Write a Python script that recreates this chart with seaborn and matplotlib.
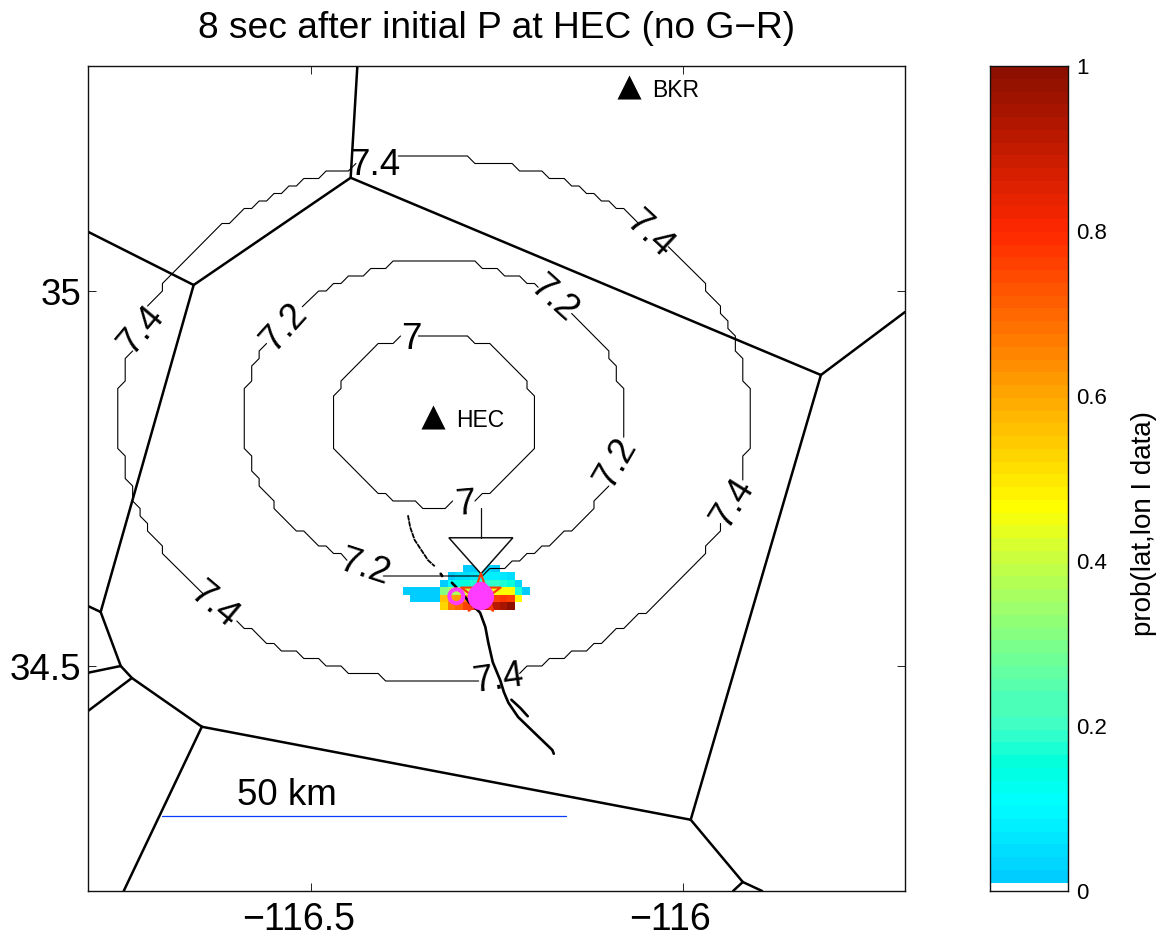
import matplotlib
matplotlib.use("Agg")
import matplotlib.pyplot as plt
import numpy as np
import seaborn as sns
from matplotlib.colors import LinearSegmentedColormap
from matplotlib.transforms import ScaledTranslation

# station locations
station_names = ["BKR", "HEC"]
station_lon = [-116.073, -116.336]
station_lat = [35.272, 34.832]
station_label_lon = [-116.042, -116.305]
station_label_lat = [35.268, 34.828]

# fault network, one polyline per entry
fault_lons = [
    [-116.438, -116.447],
    [-116.447, -116.658],
    [-116.80, -116.658],
    [-116.658, -116.783],
    [-116.447, -115.815],
    [-115.815, -115.702],
    [-115.815, -115.990],
    [-115.990, -116.647],
    [-116.647, -116.741],
    [-116.741, -116.756],
    [-116.756, -116.783],
    [-116.783, -116.80],
    [-116.756, -116.80],
    [-116.741, -116.80],
    [-116.647, -116.752],
    [-115.990, -115.920],
    [-115.920, -115.933],
    [-115.920, -115.894],
]
fault_lats = [
    [35.30, 35.151],
    [35.151, 35.008],
    [35.079, 35.008],
    [35.008, 34.572],
    [35.151, 34.888],
    [34.888, 34.972],
    [34.888, 34.295],
    [34.295, 34.419],
    [34.419, 34.484],
    [34.484, 34.50],
    [34.50, 34.572],
    [34.572, 34.58],
    [34.50, 34.491],
    [34.484, 34.44],
    [34.419, 34.20],
    [34.295, 34.212],
    [34.212, 34.20],
    [34.212, 34.20],
]

# surface rupture traces
trace_lons = [
    [-116.293, -116.287, -116.277, -116.273, -116.266, -116.262, -116.256,
     -116.246, -116.241, -116.235, -116.222, -116.197, -116.176, -116.174],
    [-116.231, -116.219, -116.209],
    [-116.311, -116.305],
    [-116.326, -116.324],
]
trace_lats = [
    [34.592, 34.584, 34.575, 34.571, 34.552, 34.531, 34.505,
     34.481, 34.465, 34.451, 34.432, 34.408, 34.388, 34.383],
    [34.455, 34.444, 34.433],
    [34.611, 34.605],
    [34.623, 34.620],
]
upper_trace_lon = [-116.370, -116.367, -116.361, -116.351, -116.343, -116.334]
upper_trace_lat = [34.701, 34.685, 34.668, 34.653, 34.641, 34.633]

# contour M 7.4, broken where the labels sit
c74_lons = [
    [-116.383, -116.29, -116.28, -116.23, -116.22, -116.19, -116.18, -116.16, -116.15,
     -116.14, -116.13, -116.12, -116.11, -116.10, -116.09, -116.08, -116.06],
    [-116.02, -115.97, -115.97, -115.95, -115.95, -115.94, -115.94, -115.93, -115.93,
     -115.92, -115.92, -115.91, -115.91, -115.92, -115.92],
    [-115.95, -115.95, -115.97, -115.97, -116.05, -116.06, -116.08, -116.09, -116.11,
     -116.12, -116.13, -116.15, -116.16, -116.18, -116.19, -116.21, -116.22],
    [-116.275, -116.40, -116.41, -116.45, -116.46, -116.48, -116.49, -116.51, -116.52,
     -116.54, -116.55, -116.56, -116.58, -116.59, -116.60],
    [-116.645, -116.70, -116.70, -116.72, -116.72, -116.73, -116.73, -116.74, -116.74,
     -116.75, -116.75, -116.76, -116.76, -116.75, -116.75, -116.74],
    [-116.72, -116.70, -116.70, -116.62, -116.61, -116.59, -116.58, -116.57, -116.56,
     -116.55, -116.54, -116.53, -116.52, -116.51, -116.49, -116.48, -116.45, -116.44],
]
c74_lats = [
    [35.18, 35.18, 35.17, 35.17, 35.16, 35.16, 35.15, 35.15, 35.14,
     35.14, 35.13, 35.13, 35.12, 35.12, 35.11, 35.11, 35.09],
    [35.059, 35.01, 35.00, 34.98, 34.97, 34.96, 34.95, 34.94, 34.92,
     34.91, 34.88, 34.87, 34.79, 34.78, 34.748],
    [34.69, 34.68, 34.66, 34.65, 34.57, 34.57, 34.55, 34.55, 34.53,
     34.53, 34.52, 34.52, 34.51, 34.51, 34.50, 34.50, 34.49],
    [34.48, 34.48, 34.49, 34.49, 34.50, 34.50, 34.51, 34.51, 34.52,
     34.52, 34.53, 34.53, 34.55, 34.55, 34.56],
    [34.596, 34.65, 34.66, 34.68, 34.69, 34.70, 34.71, 34.72, 34.74,
     34.75, 34.78, 34.79, 34.87, 34.88, 34.91, 34.92],
    [34.98, 35.00, 35.01, 35.09, 35.09, 35.11, 35.11, 35.12, 35.12,
     35.13, 35.13, 35.14, 35.14, 35.15, 35.15, 35.16, 35.16, 35.17],
]

# contour M 7.2
c72_lons = [
    [-116.512, -116.49, -116.48, -116.47, -116.46, -116.45, -116.43, -116.42, -116.40,
     -116.39, -116.28, -116.27, -116.25, -116.24, -116.22, -116.21, -116.20, -116.195],
    [-116.15, -116.10, -116.10, -116.09, -116.09, -116.08, -116.08],
    [-116.10, -116.12, -116.12, -116.15, -116.16, -116.18, -116.19, -116.20, -116.21,
     -116.22, -116.23, -116.24, -116.26, -116.27, -116.403],
    [-116.452, -116.46, -116.47, -116.48, -116.49, -116.51, -116.52, -116.55, -116.55,
     -116.57, -116.57, -116.58, -116.58, -116.59, -116.59, -116.58, -116.58, -116.57,
     -116.57, -116.56],
]
c72_lats = [
    [34.979, 35.00, 35.00, 35.01, 35.01, 35.02, 35.02, 35.03, 35.03,
     35.04, 35.04, 35.03, 35.03, 35.02, 35.02, 35.01, 35.01, 35.005],
    [34.97, 34.92, 34.91, 34.90, 34.88, 34.87, 34.805],
    [34.74, 34.72, 34.71, 34.68, 34.68, 34.66, 34.66, 34.65, 34.65,
     34.64, 34.64, 34.63, 34.63, 34.62, 34.62],
    [34.641, 34.65, 34.65, 34.66, 34.66, 34.68, 34.68, 34.71, 34.72,
     34.74, 34.75, 34.76, 34.78, 34.79, 34.87, 34.88, 34.90, 34.91,
     34.92, 34.93],
]

# contour M 7
c70_lons = [
    [-116.356, -116.29, -116.28, -116.26, -116.21, -116.21, -116.20, -116.20, -116.26,
     -116.27, -116.28],
    [-116.31, -116.32, -116.35, -116.36, -116.39, -116.40, -116.41, -116.47, -116.47,
     -116.46, -116.46, -116.41, -116.39, -116.38],
]
c70_lats = [
    [34.94, 34.94, 34.93, 34.93, 34.88, 34.87, 34.86, 34.79, 34.73, 34.73, 34.72],
    [34.72, 34.71, 34.71, 34.72, 34.72, 34.73, 34.73, 34.79, 34.86, 34.87, 34.88,
     34.93, 34.93, 34.94],
]

# contour labels
label_text = ["7.4", "7.4", "7.4", "7.4", "7.4", "7.4", "7.2", "7.2", "7.2", "7.2", "7", "7"]
label_lon = [-116.414, -116.045, -116.729, -115.934, -116.631, -116.249,
             -116.536, -116.174, -116.091, -116.429, -116.366, -116.293]
label_lat = [35.168, 35.075, 34.947, 34.717, 34.581, 34.482,
             34.951, 34.989, 34.771, 34.631, 34.935, 34.715]
label_rot = [0, -43, 50, 58, -40, 8, 48, -42, 60, -18, 0, 5]

# probability grid, 0.01 degree cells, nan = not drawn
prob_lon_edges = np.arange(18) * 0.01 - 116.3766
prob_lat_edges = 34.635 - np.arange(7) * 0.01
n = np.nan
prob_grid = np.array([
    [n, n, n, n, n, n, n, n, .02, .03, .03, .04, .03, n, n, n, n],
    [n, n, n, n, n, n, .03, .05, .06, .07, .08, .09, .09, .07, .05, n, n],
    [n, n, n, n, n, .03, .12, .15, .17, .18, .19, .19, .19, .18, .17, .04, n],
    [.02, .02, .02, .02, .02, .30, .33, .37, .40, .42, .44, .45, .45, .46, .46, .18, .02],
    [n, .02, .02, .02, .02, .55, .60, .62, .65, .68, .70, .72, .75, .78, .76, .46, n],
    [n, n, n, n, n, .52, .66, .70, .76, .80, .85, .90, .92, .95, .99, n, n],
])

# epicentre estimates and the P arrival marker
star_lon, star_lat = [-116.272], [34.596]
best_lon, best_lat = [-116.272, -116.272], [34.592, 34.601]
ring_lon, ring_lat = [-116.305], [34.593]
arrow_lon = [-116.315, -116.229, -116.272]
arrow_lat = [34.671, 34.671, 34.623]
stem_lon = [-116.272, -116.272]
stem_lat = [34.711, 34.671]

# scale bar
scale_lon = [-116.7005, -116.1575]
scale_lat = [34.30, 34.30]

# colour scale anchors
cmap_values = [0.0, 0.107, 0.155, 0.2, 0.4, 0.458, 0.6, 0.8, 1.0]
cmap_colors = ["#00c4ff", "#00ffff", "#00ffdc", "#3cffc8", "#cdff3c", "#ffff00",
               "#ffa500", "#ff2800", "#8c0f00"]
cbar_ticks = [0, 0.2, 0.4, 0.6, 0.8, 1]
cbar_ticklabels = ["0", "0.2", "0.4", "0.6", "0.8", "1"]

sns.set_style("ticks")
plt.rcParams["font.family"] = ["Liberation Sans", "DejaVu Sans"]
plt.rcParams["text.color"] = "black"
plt.rcParams["axes.labelcolor"] = "black"
plt.rcParams["xtick.labelcolor"] = "black"
plt.rcParams["ytick.labelcolor"] = "black"

W, H = 1166, 938
fig = plt.figure(figsize=(W / 100, H / 100), dpi=100)
ax = fig.add_axes([88 / W, 1 - 891 / H, (905 - 88) / W, (891 - 66) / H])
cax = fig.add_axes([990 / W, 1 - 891 / H, (1068 - 990) / W, (891 - 66) / H])

prob_cmap = LinearSegmentedColormap.from_list("prob", list(zip(cmap_values, cmap_colors)), N=64)

ax.pcolormesh(prob_lon_edges, prob_lat_edges, prob_grid, cmap=prob_cmap, vmin=0, vmax=1, zorder=1)

for lons, lats in zip(fault_lons, fault_lats):
    sns.lineplot(x=lons, y=lats, sort=False, estimator=None, color="black", linewidth=1.8, ax=ax, zorder=2)

for lons, lats in zip(c74_lons + c72_lons + c70_lons, c74_lats + c72_lats + c70_lats):
    sns.lineplot(x=lons, y=lats, sort=False, estimator=None, color="black", linewidth=0.8, ax=ax, zorder=2)

for lons, lats in zip(trace_lons, trace_lats):
    sns.lineplot(x=lons, y=lats, sort=False, estimator=None, color="black", linewidth=1.9, ax=ax, zorder=3)
sns.lineplot(x=upper_trace_lon, y=upper_trace_lat, sort=False, estimator=None, color="black",
             linewidth=1.3, linestyle=(0, (3, 0.4)), ax=ax, zorder=3)

sns.lineplot(x=scale_lon, y=scale_lat, sort=False, estimator=None, color="#0a3cff", linewidth=0.9, ax=ax)
ax.text(-116.533, 34.328, "50 km", fontsize=26.5, ha="center", va="center")

# P arrival marker
ax.fill(arrow_lon, arrow_lat, facecolor="white", edgecolor="#111111", linewidth=1.1, zorder=4)
sns.lineplot(x=stem_lon, y=stem_lat, sort=False, estimator=None, color="#111111", linewidth=0.9, ax=ax, zorder=4)

ax.scatter(star_lon, star_lat, marker="*", s=900, facecolors="none", edgecolors="#ff3a00", linewidths=1.5, zorder=5)
sns.scatterplot(x=best_lon, y=best_lat, s=[360, 150], size=[360, 150], sizes=(150, 360), color="#ff3cff",
                linewidth=0, legend=False, ax=ax, zorder=6)
ax.scatter(ring_lon, ring_lat, marker="o", s=100, facecolors="none", edgecolors="#ff3cff", linewidths=2.9, zorder=6)

sns.scatterplot(x=station_lon, y=station_lat, marker="^", s=300, color="black", linewidth=0, legend=False, ax=ax, zorder=5)
for name, lon, lat in zip(station_names, station_label_lon, station_label_lat):
    ax.text(lon, lat, name, fontsize=16.5, ha="left", va="center")

for text, lon, lat, rot in zip(label_text, label_lon, label_lat, label_rot):
    ax.text(lon, lat, text, fontsize=26.5, rotation=rot, ha="center", va="center",
            rotation_mode="anchor", zorder=7)

ax.set_xlim(-116.80, -115.702)
ax.set_ylim(34.20, 35.30)
ax.set_xticks([-116.5, -116])
ax.set_xticklabels(["\u2212116.5", "\u2212116"])
ax.set_yticks([34.5, 35])
ax.set_yticklabels(["34.5", "35"])
ax.tick_params(direction="in", length=6, width=0.7, top=True, right=True, color="#222222")
ax.tick_params(axis="x", labelsize=27, pad=8)
ax.tick_params(axis="y", labelsize=26.5, pad=5)
# the original tick labels sit left of their ticks
for lab in ax.get_xticklabels():
    lab.set_transform(lab.get_transform() + ScaledTranslation(-13 / 100, 0, fig.dpi_scale_trans))
for spine in ax.spines.values():
    spine.set_visible(True)
    spine.set_linewidth(1.0)
    spine.set_color("#111111")
ax.set_title("8 sec after initial P at HEC (no G\u2212R)", fontsize=26.7, pad=20)
ax.set_xlabel("")
ax.set_ylabel("")

# colourbar: 64 flat levels with the lowest sliver left white
cbar_edges = np.linspace(0.01, 1, 65)
cbar_levels = (cbar_edges[:-1] + cbar_edges[1:]) / 2
cax.pcolormesh([0, 1], cbar_edges, cbar_levels[:, None], cmap=prob_cmap, vmin=0, vmax=1)
cax.set_xlim(0, 1)
cax.set_ylim(0, 1)
cax.set_xticks([])
cax.set_yticks(cbar_ticks)
cax.set_yticklabels(cbar_ticklabels)
cax.yaxis.tick_right()
cax.tick_params(axis="y", direction="in", length=6, width=0.7, left=True, right=True, labelsize=16, pad=6, color="#222222")
cax.set_ylabel("prob(lat,lon I data)", fontsize=20)
cax.yaxis.set_label_position("right")
cax.yaxis.set_label_coords(1.806, 0.445)
for spine in cax.spines.values():
    spine.set_visible(True)
    spine.set_linewidth(1.0)
    spine.set_color("#111111")

fig.savefig("out.png", dpi=100)
